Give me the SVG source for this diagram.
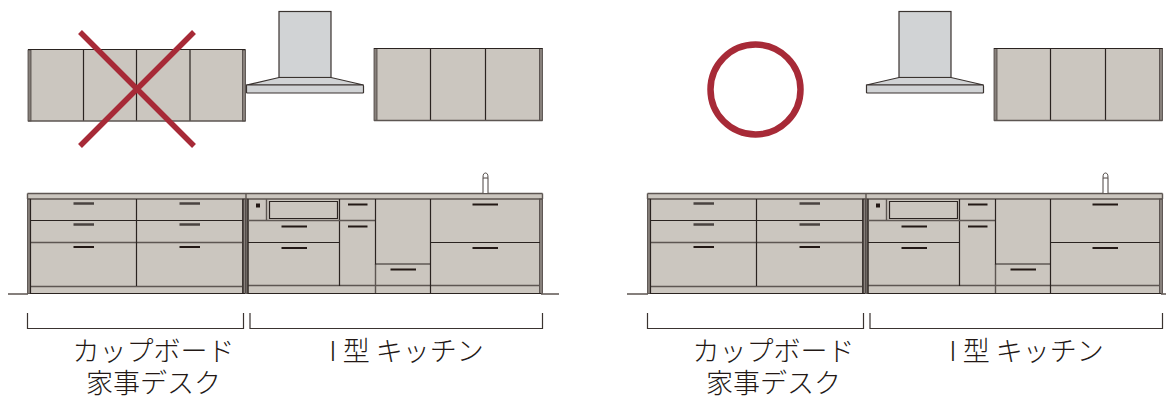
<svg xmlns="http://www.w3.org/2000/svg" xmlns:xlink="http://www.w3.org/1999/xlink" width="1166" height="396" viewBox="0 0 1166 396">
<style>
.f{fill:#cbc6bf}
.l{stroke:#2a2320;stroke-width:1.2;fill:none}
.g{stroke:#5d5652;stroke-width:1.4;fill:none}
.p{fill:#87807b;stroke:#4a4340;stroke-width:.8}
.h{stroke:#231815;stroke-width:2.2;fill:none}
.hg{stroke:#4a4340;stroke-width:2.4;fill:none}
.b{stroke:#3a3330;stroke-width:1.2;fill:none}
.hood{fill:#d1d3d5;stroke:#3a3330;stroke-width:1.2}
.t{font-family:"Noto Sans CJK JP","Noto Sans",sans-serif;font-weight:300;font-size:27px;fill:#231815;text-anchor:middle}
</style>
<defs>
<g id="hoodShape">
<rect class="hood" x="279" y="11.5" width="52" height="66"/>
<path class="hood" d="M246.500 85L279 77.500H331L363.500 85Z"/>
<path class="hood" d="M246.500 85H363L363.500 86V92.500L363 93H247L246.500 92.500Z"/>
</g>
<g id="sideCabinet">
<rect class="f" x="374" y="48.500" width="168" height="72"/>
<rect class="p" x="374" y="48.500" width="3" height="72"/>
<rect class="p" x="539.500" y="48.500" width="3" height="72"/>
<path class="l" d="M374 48.500H542.500M430.500 48.500V120.500M485.500 48.500V120.500"/>
<path class="g" d="M374 120.500H542.500"/>
</g>
<g id="cupboardBase">
<rect class="f" x="28" y="193.500" width="218" height="100"/>
<rect class="p" x="27.500" y="199" width="3" height="94.500"/>
<rect class="p" x="242.500" y="199" width="3" height="94.500"/>
<path class="g" d="M27.500 193.500H246M27.500 199H246M27.500 193.500V199M30 286.500H243M30 242.500H243"/>
<path class="l" d="M30.500 199V294M136.500 199V286M30 220.500H243M243 199V294M30 293.500H245"/>
<path class="hg" d="M73.500 203.500H94M179.500 203.500H200M73.500 224.500H94M179.500 224.500H200"/>
<path class="h" d="M73.500 247H94M179.500 247H200"/>
</g>
<g id="kitchenBase">
<rect class="f" x="246" y="193.500" width="296.500" height="100"/>
<rect class="p" x="246" y="199" width="2" height="94.500"/>
<rect class="p" x="539.500" y="199" width="3" height="94.500"/>
<path class="g" d="M246 193.500H542.500M246 199H542.500M542.500 193.500V199M246 193.500V199M248 285.500H540M375.500 264V294"/>
<path class="l" d="M248 199V294M248 293.500H541M269.500 201.500H337.500V218.500H269.500ZM339.500 199V286M248 242.500H339.500M430.500 242.500H540M430.500 199V294"/>
<path class="g" d="M266.500 199V220.500M248 220.500H375.500" stroke-width="1.600"/>
<path class="l" d="M375.500 199V264H430.500" stroke-width="1.600"/>
<rect x="256" y="203.500" width="4" height="4" fill="#231815"/>
<path class="h" d="M281.500 226.500H307M281.500 248H307M348 204.500H367.500M348 226.500H367.500M390.500 269.500H416M472.500 204.500H498M472.500 248H498"/>
<path d="M483 193V177.500Q483 173 485.500 173Q488 173 488 177.500V193" fill="#fff" stroke="#4a4340" stroke-width="1"/>
<path d="M483 178H488" stroke="#4a4340" stroke-width="1"/>
</g>
<g id="bracketA"><path class="b" d="M27.500 313V328.500H243.500V313"/></g>
<g id="bracketB"><path class="b" d="M250 313V328.500H542.500V313"/></g>
</defs>

<g id="left-wall-cabinet">
<rect class="f" x="28" y="50" width="217" height="71"/>
<rect class="p" x="28" y="50" width="3" height="71"/>
<rect class="p" x="242.500" y="50" width="3" height="71"/>
<path class="l" d="M28 49.500H245.500M83.500 50V121M136.500 50V121M190 50V121"/>
<path class="g" d="M28 121H245.500"/>
</g>
<g id="left-cross"><path d="M80 32L194 146M194 32L80 146" stroke="#a72a37" stroke-width="5.500" fill="none"/></g>
<g id="left-hood"><use href="#hoodShape"/></g>
<g id="left-side-cabinet"><use href="#sideCabinet"/></g>
<g id="left-cupboard"><use href="#cupboardBase"/></g>
<g id="left-kitchen"><use href="#kitchenBase"/></g>
<g id="left-floor"><path class="g" d="M8 294H28M541 294H559"/></g>
<g id="left-label-cupboard"><use href="#bracketA"/><text class="t" x="153.500" y="361">カップボード</text><text class="t" x="153.500" y="393">家事デスク</text></g>
<g id="left-label-kitchen"><use href="#bracketB"/><text class="t" x="406.500" y="361">I 型 キッチン</text></g>

<g id="right-circle"><circle cx="755.500" cy="89.500" r="45" fill="none" stroke="#a72a37" stroke-width="6.500"/></g>
<g id="right-hood"><use href="#hoodShape" x="620"/></g>
<g id="right-side-cabinet"><use href="#sideCabinet" x="620"/></g>
<g id="right-cupboard"><use href="#cupboardBase" x="620"/></g>
<g id="right-kitchen"><use href="#kitchenBase" x="620"/></g>
<g id="right-floor"><path class="g" d="M627 294H648M1161 294H1166"/></g>
<g id="right-label-cupboard"><use href="#bracketA" x="620"/><text class="t" x="773.500" y="361">カップボード</text><text class="t" x="773.500" y="393">家事デスク</text></g>
<g id="right-label-kitchen"><use href="#bracketB" x="620"/><text class="t" x="1026.500" y="361">I 型 キッチン</text></g>
</svg>
